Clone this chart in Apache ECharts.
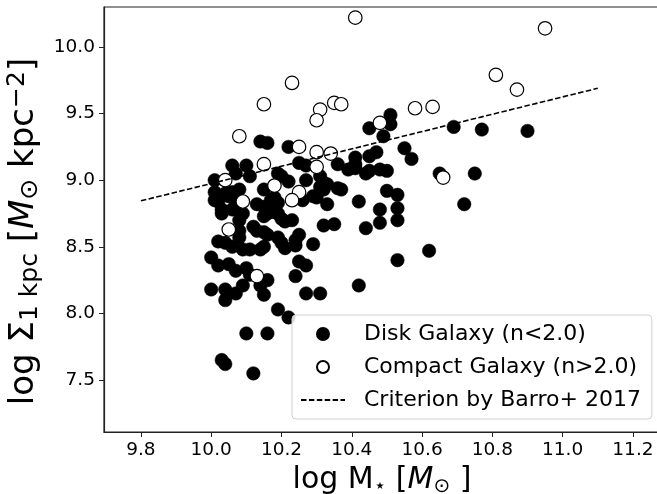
<!DOCTYPE html>
<html>
<head>
<meta charset="utf-8">
<script src="https://cdn.jsdelivr.net/npm/echarts@6/dist/echarts.min.js"></script>
<style>
html,body{margin:0;padding:0;background:#fff;}
#chart{width:657px;height:494px;}
</style>
</head>
<body>
<div id="chart"></div>
<script>
// ---- data ----
const diskMass = [10.51,10.51,10.45,10.49,10.69,10.77,10.90,10.14,10.16,10.22,10.55,10.57,10.47,10.45,10.41,10.41,10.36,10.39,10.41,10.44,
10.45,10.48,10.50,10.25,10.27,10.06,10.10,10.07,10.11,10.19,10.20,10.22,10.27,10.31,10.32,10.33,10.32,10.37,10.01,10.65,
10.75,10.50,10.53,10.53,10.53,10.48,10.48,10.44,10.42,10.72,10.62,10.53,10.42,10.33,10.32,10.35,10.29,10.26,10.30,10.15,
10.13,10.01,10.02,10.01,10.04,10.05,10.08,10.03,10.03,10.06,10.08,10.09,10.08,10.08,10.12,10.15,10.15,10.17,10.18,10.19,
10.19,10.20,10.21,10.23,10.18,10.16,10.15,10.16,10.13,10.02,10.04,10.06,10.09,10.11,10.14,10.15,10.19,10.20,10.21,10.24,
10.25,10.24,10.29,10.00,10.02,10.05,10.07,10.10,10.11,10.16,10.09,10.14,10.00,10.04,10.04,10.07,10.15,10.24,10.25,10.27,
10.27,10.31,10.19,10.22,10.10,10.16,10.03,10.04,10.12,10.06,10.07,10.31,10.36];
const diskSigma = [9.49,9.42,9.39,9.33,9.40,9.38,9.37,9.29,9.28,9.25,9.24,9.16,9.21,9.18,9.17,9.12,9.12,9.08,9.09,9.05,
9.07,9.08,9.07,9.13,9.11,9.11,9.11,9.05,9.03,9.05,9.03,8.99,9.00,9.03,8.98,8.97,8.93,8.93,9.00,9.05,
9.05,8.92,8.89,8.79,8.70,8.78,8.68,8.64,8.84,8.82,8.47,8.40,8.21,8.82,8.66,8.67,8.88,8.85,8.87,8.93,
8.82,8.91,8.84,8.85,8.90,8.88,8.93,8.78,8.75,8.78,8.70,8.75,8.62,8.57,8.65,8.73,8.80,8.85,8.87,8.83,
8.75,8.71,8.69,8.70,8.76,8.75,8.61,8.59,8.62,8.54,8.53,8.50,8.48,8.48,8.48,8.50,8.57,8.53,8.49,8.51,
8.59,8.55,8.52,8.42,8.36,8.37,8.32,8.34,8.29,8.25,8.21,8.21,8.18,8.18,8.10,8.15,8.14,8.28,8.39,8.36,
8.15,8.15,8.03,7.97,7.85,7.85,7.65,7.62,7.55,8.91,8.83,8.95,8.94];

const compactMass = [10.41,10.95,10.81,10.87,10.23,10.15,10.31,10.30,10.35,10.37,10.58,10.63,10.48,10.08,10.25,10.30,10.34,10.15,10.30,10.66,
10.04,10.18,10.25,10.23,10.09,10.05,10.13];
const compactSigma = [10.22,10.14,9.79,9.68,9.73,9.57,9.53,9.45,9.58,9.57,9.54,9.55,9.43,9.33,9.25,9.21,9.20,9.12,9.10,9.02,
9.00,8.96,8.91,8.85,8.84,8.63,8.28];

const barroMass = [9.8, 11.1];
const barroSigma = [8.845, 9.69];

const xTicks = [9.8, 10.0, 10.2, 10.4, 10.6, 10.8, 11.0, 11.2];
const yTicks = [7.5, 8.0, 8.5, 9.0, 9.5, 10.0];

const legendNames = ['Disk Galaxy (n<2.0)', 'Compact Galaxy (n>2.0)', 'Criterion by Barro+ 2017'];

// ---- build ----
const zip = (a, b) => a.map((v, i) => [v, b[i]]);
const FONT = 'DejaVu Sans';

const chart = echarts.init(document.getElementById('chart'), null, {renderer: 'canvas'});
chart.setOption({
  animation: false,
  backgroundColor: '#fff',
  textStyle: {fontFamily: FONT},
  grid: {left: 104, top: 7, right: -3, bottom: 62, containLabel: false, outerBoundsMode: 'none',
         show: true, borderColor: '#222', borderWidth: 1.2, backgroundColor: 'transparent'},
  xAxis: {
    type: 'value', min: 9.695, max: 11.277,
    axisLine: {show: true, lineStyle: {color: '#222', width: 1.2}},
    axisTick: {show: true, length: 5, lineStyle: {color: '#222'}, customValues: xTicks},
    axisLabel: {color: '#000', fontSize: 18.5, fontFamily: FONT, margin: 9, customValues: xTicks, formatter: v => v.toFixed(1)},
    splitLine: {show: false},
    name: '{a|log M}{sub|⋆}{a| [}{it|M}{sub|⊙}{a| ]}',
    nameLocation: 'middle', nameGap: 31,
    nameTextStyle: {
      rich: {
        a: {fontSize: 30, fontFamily: FONT, color: '#000', lineHeight: 34},
        it: {fontSize: 30, fontFamily: FONT, fontStyle: 'italic', color: '#000', lineHeight: 34},
        sub: {fontSize: 20, fontFamily: FONT, color: '#000', lineHeight: 20, verticalAlign: 'bottom'}
      }
    }
  },
  yAxis: {
    type: 'value', min: 7.11, max: 10.30,
    axisLine: {show: true, lineStyle: {color: '#222', width: 1.2}},
    axisTick: {show: true, length: 5, lineStyle: {color: '#222'}, customValues: yTicks},
    axisLabel: {color: '#000', fontSize: 18.5, fontFamily: FONT, margin: 9, customValues: yTicks, formatter: v => v.toFixed(1)},
    splitLine: {show: false},
    name: '{a|log Σ}{sub|1 kpc}{a| [}{it|M}{sub|⊙}{a| kpc}{sup|−2}{a|]}',
    nameLocation: 'middle', nameGap: 37, nameRotate: 90,
    nameTextStyle: {
      padding: [0, 24, 0, 0],
      rich: {
        a: {fontSize: 34, fontFamily: FONT, color: '#000', lineHeight: 38},
        it: {fontSize: 34, fontFamily: FONT, fontStyle: 'italic', color: '#000', lineHeight: 38},
        sub: {fontSize: 25, fontFamily: FONT, color: '#000', lineHeight: 24, verticalAlign: 'bottom'},
        sup: {fontSize: 25, fontFamily: FONT, color: '#000', lineHeight: 24, verticalAlign: 'top'}
      }
    }
  },
  legend: {
    data: legendNames,
    orient: 'vertical', left: 292, top: 315,
    padding: [8, 11, 8, 8],
    itemWidth: 44, itemHeight: 12, itemGap: 11,
    backgroundColor: 'rgba(255,255,255,0.85)',
    borderColor: '#cfcfcf', borderWidth: 1, borderRadius: 4,
    textStyle: {fontSize: 22, fontFamily: FONT, color: '#000', lineHeight: 22, padding: [0, 0, 0, 14]},
    z: 10
  },
  series: [
    {
      name: legendNames[0], type: 'scatter', data: zip(diskMass, diskSigma),
      symbol: 'circle', symbolSize: 13.5,
      itemStyle: {color: '#000', borderColor: '#000', borderWidth: 0.5, opacity: 1},
      z: 2
    },
    {
      name: legendNames[1], type: 'scatter', data: zip(compactMass, compactSigma),
      symbol: 'circle', symbolSize: 13.5,
      itemStyle: {color: '#fff', borderColor: '#000', borderWidth: 1.2, opacity: 1},
      z: 3
    },
    {
      name: legendNames[2], type: 'line', data: zip(barroMass, barroSigma),
      symbol: 'circle', showSymbol: false, symbolSize: 0,
      lineStyle: {color: '#000', width: 1.6, type: [5.5, 2.4]},
      itemStyle: {color: 'rgba(0,0,0,0)', borderWidth: 0, borderColor: 'rgba(0,0,0,0)'},
      emphasis: {disabled: true},
      z: 4
    }
  ]
});
</script>
</body>
</html>
